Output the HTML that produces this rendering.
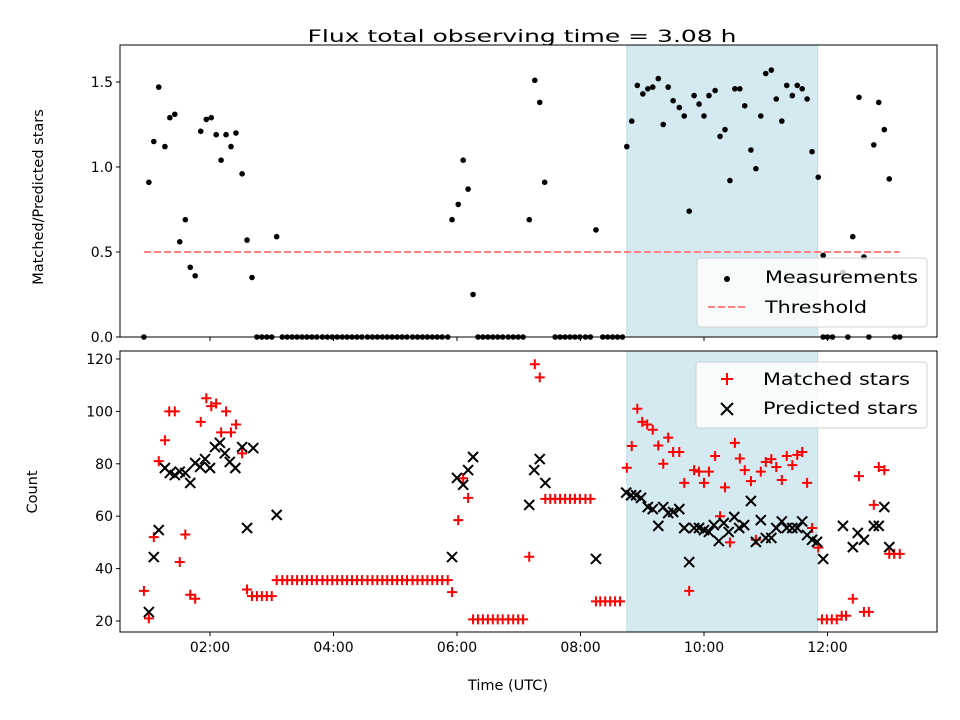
<!DOCTYPE html>
<html><head><meta charset="utf-8">
<style>
html,body{margin:0;padding:0;background:#fff;}
svg{display:block;font-family:"DejaVu Sans","Liberation Sans",sans-serif;}
</style></head>
<body>
<svg id="chart" width="960" height="720" viewBox="0 0 960 720" xmlns="http://www.w3.org/2000/svg">
<text x="522" y="42" font-size="17" text-anchor="middle" textLength="429" lengthAdjust="spacingAndGlyphs">Flux total observing time = 3.08 h</text>
<g id="gtop"></g>
<g id="gbot"></g>
</svg>
<script>
// ---- data ----
const shadeRange = [8.75, 11.84];
const threshold = 0.5;
const thresholdRange = [0.93, 13.17];
const ratioTimes = [1.01,1.09,1.17,1.27,1.35,1.43,1.51,1.60,1.68,1.76,1.85,1.94,2.02,2.10,2.18,2.26,2.34,2.42,2.52,2.60,2.68,3.08,
 5.92,6.02,6.10,6.18,6.26,7.17,7.26,7.34,7.42,8.25,
 8.75,8.83,8.92,9.01,9.09,9.17,9.26,9.34,9.42,9.50,9.60,9.68,9.76,9.84,9.92,10.0,10.08,10.18,10.26,10.34,10.42,10.50,10.58,10.66,10.76,10.84,10.92,11.0,11.09,11.17,11.26,11.34,11.43,11.51,11.59,11.67,11.75,11.85,
 11.93,12.25,12.41,12.51,12.59,12.75,12.83,12.92,13.0];
const ratioValues = [0.91,1.15,1.47,1.12,1.29,1.31,0.56,0.69,0.41,0.36,1.21,1.28,1.29,1.19,1.04,1.19,1.12,1.20,0.96,0.57,0.35,0.59,
 0.69,0.78,1.04,0.87,0.25,0.69,1.51,1.38,0.91,0.63,
 1.12,1.27,1.48,1.43,1.46,1.47,1.52,1.25,1.47,1.39,1.35,1.30,0.74,1.42,1.37,1.30,1.42,1.45,1.18,1.22,0.92,1.46,1.46,1.36,1.10,0.99,1.30,1.55,1.57,1.40,1.27,1.48,1.42,1.48,1.46,1.40,1.09,0.94,
 0.48,0.38,0.59,1.41,0.47,1.13,1.38,1.22,0.93];
const zeroTimes = [0.93,2.76,2.84,2.92,3.0,3.17,3.25,3.33,3.41,3.49,3.57,3.65,3.73,3.82,3.90,3.98,4.06,4.14,4.22,4.30,4.38,4.46,4.55,4.63,4.71,4.79,4.87,4.95,5.03,5.11,5.19,5.28,5.36,5.44,5.52,5.60,5.68,5.76,5.85,
 6.34,6.42,6.50,6.58,6.66,6.74,6.83,6.91,6.99,7.07,7.59,7.67,7.75,7.83,7.91,7.99,8.08,8.16,8.36,8.44,8.52,8.60,8.68,11.93,12.0,12.08,12.33,12.67,13.09,13.17];
const matchedTimes = [0.93,1.01,1.09,1.17,1.27,1.34,1.43,1.51,1.60,1.68,1.76,1.85,1.94,2.02,2.10,2.18,2.26,2.34,2.42,2.52,2.60,
 2.68,2.76,2.84,2.92,3.0,
 3.08,3.17,3.25,3.33,3.41,3.49,3.57,3.65,3.73,3.82,3.90,3.98,4.06,4.14,4.22,4.30,4.38,4.46,4.55,4.63,4.71,4.79,4.87,4.95,5.03,5.11,5.19,5.28,5.36,5.44,5.52,5.60,5.68,5.76,5.85,
 5.92,6.02,6.10,6.18,
 6.26,6.34,6.42,6.50,6.58,6.66,6.74,6.83,6.91,6.99,7.07,
 7.17,7.26,7.34,
 7.43,7.51,7.59,7.67,7.75,7.83,7.91,7.99,8.08,8.16,
 8.25,8.32,8.40,8.48,8.56,8.64,
 8.75,8.83,8.92,9.0,9.08,9.17,9.26,9.34,9.42,9.50,9.60,9.68,9.76,9.84,9.92,10.0,10.08,10.18,10.26,10.34,10.42,10.50,10.58,10.66,10.76,10.84,10.92,11.0,11.09,11.17,11.26,11.34,11.43,11.51,11.59,11.67,11.75,11.85,
 11.91,11.99,12.07,12.15,12.23,12.30,12.41,12.51,12.59,12.67,12.75,12.83,12.92,13.0,13.08,13.17];
const matchedValues = [31.5,21,52,81,89,100,100,42.5,53,30,28.5,96,105,102,103,92,100,92,95,84,32,
 29.5,29.5,29.5,29.5,29.5,
 35.6,35.6,35.6,35.6,35.6,35.6,35.6,35.6,35.6,35.6,35.6,35.6,35.6,35.6,35.6,35.6,35.6,35.6,35.6,35.6,35.6,35.6,35.6,35.6,35.6,35.6,35.6,35.6,35.6,35.6,35.6,35.6,35.6,35.6,35.6,
 31,58.5,74.5,67,
 20.6,20.6,20.6,20.6,20.6,20.6,20.6,20.6,20.6,20.6,20.6,
 44.5,118,113,
 66.6,66.6,66.6,66.6,66.6,66.6,66.6,66.6,66.6,66.6,
 27.5,27.5,27.5,27.5,27.5,27.5,
 78.5,86.8,101,96,95,93,87,80,90,84.5,84.5,72.7,31.5,77.6,77,72.7,77,83,60,71,50,88,82,77.6,73.4,51,77,80.7,81.8,78.8,73.8,83,79.5,83.4,84.5,72.7,55.5,48,
 20.6,20.6,20.6,20.6,22,22,28.5,75.3,23.5,23.5,64.3,78.8,77.6,45.6,45.6,45.6];
const predTimes = [1.01,1.09,1.17,1.27,1.35,1.43,1.51,1.60,1.68,1.76,1.84,1.92,2.0,2.08,2.16,2.24,2.32,2.41,2.52,2.60,2.70,3.08,
 5.92,6.0,6.10,6.18,6.26,7.17,7.25,7.34,7.43,8.25,
 8.74,8.82,8.90,8.98,9.09,9.17,9.26,9.34,9.42,9.50,9.60,9.68,9.76,9.84,9.92,10.0,10.08,10.16,10.24,10.32,10.40,10.49,10.57,10.65,10.76,10.84,10.92,11.0,11.09,11.17,11.26,11.34,11.43,11.51,11.59,11.67,11.75,11.83,11.93,
 12.25,12.41,12.49,12.59,12.75,12.83,12.92,13.0];
const predValues = [23.4,44.4,54.7,78.4,76.5,75.7,77,76.5,72.7,80.3,78.8,81.8,78.4,86.4,88,84,80.7,78.4,86.4,55.5,86,60.5,
 44.4,74.6,72,77.6,82.6,64.3,77.6,81.8,72.7,43.7,
 69,68,68,67,63.5,62.7,56.3,63.5,61.2,61.6,62.7,55.5,42.5,55.5,55.5,54.7,54,56.6,50.5,57.4,54,59.7,55.5,56.6,65.8,50.2,58.5,51.7,51.7,55.5,58,55.5,55.5,55.5,58,52.8,51,50.2,43.7,
 56.3,48.2,53.6,51,56.3,56.3,63.5,48.2];
const xTickHours = [2,4,6,8,10,12];
const xTickLabels = ["02:00","04:00","06:00","08:00","10:00","12:00"];
const topTicks = [0,0.5,1.0,1.5];
const topTickLabels = ["0.0","0.5","1.0","1.5"];
const botTicks = [20,40,60,80,100,120];

// ---- scales ----
const NS="http://www.w3.org/2000/svg";
const L=120,R=937;
const xs=h=>86.5+61.75*h;
const yTop=v=>337-170*v;
const yBot=v=>621-2.62*(v-20);
function mk(tag,attrs,parent){const e=document.createElementNS(NS,tag);for(const k in attrs)e.setAttribute(k,attrs[k]);parent.appendChild(e);return e;}
const gTop=document.getElementById('gtop'), gBot=document.getElementById('gbot');

function panel(g,y0,y1,name){
  const s=mk('rect',{x:xs(shadeRange[0]),y:y0,width:xs(shadeRange[1])-xs(shadeRange[0]),height:y1-y0,fill:'#d4eaf0',stroke:'#bcdde6','stroke-width':1},g);
  
  
}
panel(gTop,45,337,'top');
panel(gBot,351,632,'bottom');

const th=mk('line',{x1:xs(thresholdRange[0]),x2:xs(thresholdRange[1]),y1:yTop(threshold),y2:yTop(threshold),stroke:'#ff8080','stroke-width':2,'stroke-dasharray':'7,3'},gTop);



ratioTimes.forEach((t,i)=>{
  const c=mk('circle',{cx:xs(t),cy:yTop(ratioValues[i]),r:2.8,fill:'#000'},gTop);
  
  
});
zeroTimes.forEach(t=>{
  const c=mk('circle',{cx:xs(t),cy:yTop(0),r:2.8,fill:'#000'},gTop);
  
  
});
function plus(g,x,y,s){return mk('path',{d:`M${x-s},${y}H${x+s}M${x},${y-s}V${y+s}`,stroke:'#ff0000','stroke-width':2,fill:'none'},g);}
function cross(g,x,y,s){return mk('path',{d:`M${x-s},${y-s}L${x+s},${y+s}M${x-s},${y+s}L${x+s},${y-s}`,stroke:'#000','stroke-width':2,fill:'none'},g);}
matchedTimes.forEach((t,i)=>{
  const p=plus(gBot,xs(t),yBot(matchedValues[i]),5);
  
  
});
predTimes.forEach((t,i)=>{
  const p=cross(gBot,xs(t),yBot(predValues[i]),5);
  
  
});

[[gTop,45,337],[gBot,351,632]].forEach(([g,a,b],k)=>{
  const f=mk('rect',{x:L,y:a,width:R-L,height:b-a,fill:'none',stroke:'#000','stroke-width':1},g);
  
  
  xTickHours.forEach((h,i)=>{
    const tk=mk('line',{x1:xs(h),x2:xs(h),y1:b,y2:b+4,stroke:'#000'},g);
    
    
    if(k){
      const tl=mk('text',{x:xs(h),y:b+20,'font-size':14,'text-anchor':'middle'},g);
      tl.textContent=xTickLabels[i];
      
      
    }
  });
});
topTicks.forEach((v,i)=>{
  const tk=mk('line',{x1:L-4,x2:L,y1:yTop(v),y2:yTop(v),stroke:'#000'},gTop);
  
  
  const tl=mk('text',{x:L-7,y:yTop(v)+5,'font-size':14,'text-anchor':'end'},gTop);
  tl.textContent=topTickLabels[i];
  
  
});
botTicks.forEach(v=>{
  const tk=mk('line',{x1:L-4,x2:L,y1:yBot(v),y2:yBot(v),stroke:'#000'},gBot);
  
  
  const tl=mk('text',{x:L-7,y:yBot(v)+5,'font-size':14,'text-anchor':'end'},gBot);
  tl.textContent=String(v);
  
  
});
</script>
<svg style="position:absolute;left:0;top:0" width="960" height="720">
<text transform="translate(43,197) rotate(-90)" font-size="14.5" text-anchor="middle">Matched/Predicted stars</text>
<text transform="translate(37,492) rotate(-90)" font-size="14.5" text-anchor="middle">Count</text>
<text x="508" y="690" font-size="14.5" text-anchor="middle">Time (UTC)</text>
<g>
<rect x="697" y="258" width="230" height="69" rx="3" fill="#ffffff" fill-opacity="0.8" stroke="#d0d0d0"/>
<circle cx="727" cy="279" r="3" fill="#000"/>
<text x="765" y="283" font-size="16.5" textLength="153" lengthAdjust="spacingAndGlyphs">Measurements</text>
<line x1="708" x2="748" y1="307" y2="307" stroke="#ff8080" stroke-width="2" stroke-dasharray="7,3"/>
<text x="765" y="313" font-size="16.5" textLength="102" lengthAdjust="spacingAndGlyphs">Threshold</text>
</g>
<g>
<rect x="696" y="362" width="231" height="66" rx="3" fill="#ffffff" fill-opacity="0.8" stroke="#d0d0d0"/>
<path d="M721,379H733M727,373V385" stroke="#ff0000" stroke-width="2"/>
<text x="763" y="385" font-size="16.5" textLength="147" lengthAdjust="spacingAndGlyphs">Matched stars</text>
<path d="M721,403L733,415M721,415L733,403" stroke="#000" stroke-width="2"/>
<text x="763" y="414" font-size="16.5" textLength="155" lengthAdjust="spacingAndGlyphs">Predicted stars</text>
</g>
</svg>
</body></html>
